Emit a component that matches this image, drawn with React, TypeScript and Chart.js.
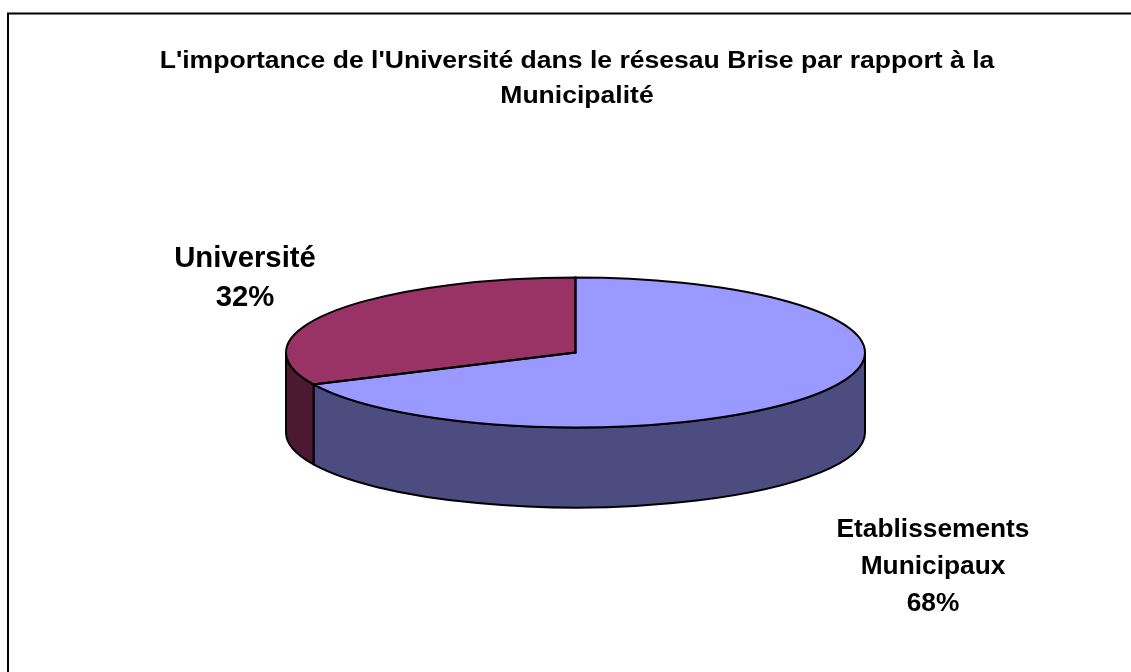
import React, { useEffect, useRef } from 'react';
import { Chart, registerables } from 'chart.js';

Chart.register(...registerables);

// ---- data ----
const CATEGORIES: string[][] = [['Etablissements', 'Municipaux'], ['Université']];
const VALUES: number[] = [68, 32];
const TITLE_LINES: string[] = [
  "L'importance de l'Université dans le résesau Brise par rapport à la",
  'Municipalité',
];

// ---- styles ----
const TOP_COLORS = ['#9999FF', '#993366'];
const SIDE_COLORS = ['#4C4C80', '#4C1933'];
const FONT = "'Liberation Sans', Arial, sans-serif";

// 3D projection of the pie
const CX = 575.5;
const CY = 352.5;
const RX = 289.5;
const RY = 75;
const DEPTH = 80;

// title placement
const TITLE_POS = { x: 577, y: 67.5, size: 23.5, lh: 35, stretch: 1.13 };
// label placement (x center, first baseline, font size, line height)
const LABEL_POS = [
  { x: 933, y: 537, size: 26.3, lh: 37 },
  { x: 245, y: 267, size: 29.3, lh: 39 },
];

function frontSegments(s: number, e: number): [number, number][] {
  const segs: [number, number][] = [];
  for (const k of [-2, -1, 0, 1, 2]) {
    const off = k * 2 * Math.PI;
    const a = Math.max(s + off, 0);
    const b = Math.min(e + off, Math.PI);
    if (b > a + 1e-6) segs.push([a, b]);
  }
  return segs;
}

const framePlugin = {
  id: 'frame',
  beforeDraw(chart: any) {
    const ctx = chart.ctx;
    ctx.save();
    ctx.strokeStyle = '#000';
    ctx.lineWidth = 2;
    ctx.strokeRect(8, 13.5, 1400, 1000);
    // title
    ctx.fillStyle = '#000';
    ctx.textAlign = 'center';
    ctx.textBaseline = 'alphabetic';
    ctx.font = `bold ${TITLE_POS.size}px ${FONT}`;
    TITLE_LINES.forEach((t, j) => {
      ctx.save();
      ctx.translate(TITLE_POS.x, TITLE_POS.y + j * TITLE_POS.lh);
      ctx.scale(TITLE_POS.stretch, 1);
      ctx.fillText(t, 0, 0);
      ctx.restore();
    });
    ctx.restore();
  },
};

const pie3dPlugin = {
  id: 'pie3d',
  beforeDatasetsDraw(chart: any) {
    const ctx = chart.ctx;
    const meta = chart.getDatasetMeta(0);
    const arcs = meta.data as any[];
    // sides
    ctx.save();
    ctx.lineWidth = 2;
    ctx.strokeStyle = '#000';
    ctx.lineJoin = 'round';
    arcs.forEach((arc, i) => {
      const { startAngle, endAngle } = arc.getProps(['startAngle', 'endAngle'], true);
      for (const [a, b] of frontSegments(startAngle, endAngle)) {
        ctx.beginPath();
        ctx.ellipse(CX, CY, RX, RY, 0, a, b, false);
        ctx.ellipse(CX, CY + DEPTH, RX, RY, 0, b, a, true);
        ctx.closePath();
        ctx.fillStyle = SIDE_COLORS[i];
        ctx.fill();
        ctx.stroke();
      }
    });
    ctx.restore();
    // transform so the library draws the top face as an ellipse
    const { x, y, outerRadius } = arcs[0].getProps(['x', 'y', 'outerRadius'], true);
    ctx.save();
    ctx.translate(CX, CY);
    ctx.scale(RX / outerRadius, RY / outerRadius);
    ctx.translate(-x, -y);
  },
  afterDatasetsDraw(chart: any) {
    const ctx = chart.ctx;
    ctx.restore();
    const meta = chart.getDatasetMeta(0);
    const arcs = meta.data as any[];
    ctx.save();
    ctx.lineWidth = 2;
    ctx.strokeStyle = '#000';
    ctx.lineJoin = 'miter';
    arcs.forEach((arc) => {
      const { startAngle, endAngle } = arc.getProps(['startAngle', 'endAngle'], true);
      ctx.beginPath();
      ctx.moveTo(CX, CY);
      ctx.ellipse(CX, CY, RX, RY, 0, startAngle, endAngle, false);
      ctx.closePath();
      ctx.stroke();
    });
    // data labels
    const total = VALUES.reduce((p, v) => p + v, 0);
    ctx.fillStyle = '#000';
    ctx.textAlign = 'center';
    ctx.textBaseline = 'alphabetic';
    CATEGORIES.forEach((lines, i) => {
      const pos = LABEL_POS[i];
      const pct = Math.round((VALUES[i] / total) * 100) + '%';
      const all = [...lines, pct];
      ctx.font = `bold ${pos.size}px ${FONT}`;
      all.forEach((t, j) => ctx.fillText(t, pos.x, pos.y + j * pos.lh));
    });
    ctx.restore();
  },
};

export default function App() {
  const ref = useRef<HTMLCanvasElement | null>(null);
  useEffect(() => {
    if (!ref.current) return;
    const chart = new Chart(ref.current, {
      type: 'pie',
      data: {
        labels: CATEGORIES,
        datasets: [
          {
            data: VALUES,
            backgroundColor: TOP_COLORS,
            borderWidth: 0,
          },
        ],
      },
      options: {
        responsive: false,
        animation: false,
        events: [],
        layout: { padding: { left: 21, right: 0, top: 120, bottom: 0 } },
        plugins: {
          legend: { display: false },
          tooltip: { enabled: false },
          title: { display: false },
        },
      },
      plugins: [framePlugin, pie3dPlugin],
    });
    return () => chart.destroy();
  }, []);
  return (
    <div style={{ position: 'fixed', left: 0, top: 0, width: 1131, height: 672, background: '#fff' }}>
      <canvas ref={ref} width={1131} height={672} style={{ display: 'block' }} />
    </div>
  );
}
